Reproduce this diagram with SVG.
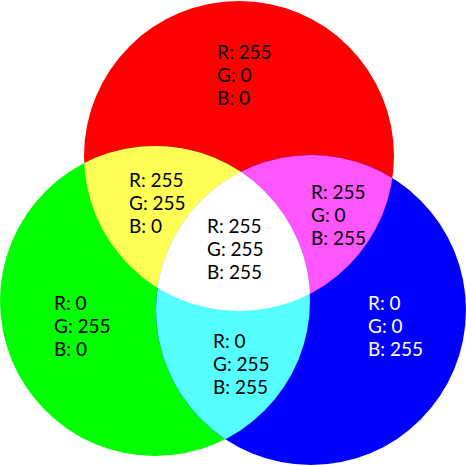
<svg xmlns="http://www.w3.org/2000/svg" width="466" height="466" viewBox="0 0 466 466">
<defs>
<clipPath id="cR"><circle cx="239" cy="156" r="155"/></clipPath>
<clipPath id="cG"><circle cx="155" cy="301" r="155"/></clipPath>
<clipPath id="cB"><circle cx="311" cy="310" r="155"/></clipPath>
</defs>
<style>
text{font-family:Lato,"Open Sans",sans-serif;font-size:19px;fill:#000}
.w{fill:#fff}
</style>
<rect width="466" height="466" fill="#fff"/>
<g id="red"><circle cx="239" cy="156" r="155" fill="#ff0000"/></g>
<g id="green"><circle cx="155" cy="301" r="155" fill="#00ff00"/></g>
<g id="blue"><circle cx="311" cy="310" r="155" fill="#0000ff"/></g>
<g id="yellow" clip-path="url(#cR)"><circle cx="155" cy="301" r="155" fill="#ffff55"/></g>
<g id="magenta" clip-path="url(#cR)"><circle cx="311" cy="310" r="155" fill="#ff55ff"/></g>
<g id="cyan" clip-path="url(#cG)"><circle cx="311" cy="310" r="155" fill="#55ffff"/></g>
<g id="white" clip-path="url(#cR)"><g clip-path="url(#cG)"><circle cx="311" cy="310" r="155" fill="#ffffff"/></g></g>
<g id="labels">
<text x="217" y="59">R: 255</text><text x="217" y="82">G: 0</text><text x="217" y="105">B: 0</text>
<text x="129" y="187">R: 255</text><text x="129" y="210">G: 255</text><text x="129" y="233">B: 0</text>
<text x="311" y="199">R: 255</text><text x="311" y="222">G: 0</text><text x="311" y="245">B: 255</text>
<text x="207" y="233">R: 255</text><text x="207" y="256">G: 255</text><text x="207" y="279">B: 255</text>
<text x="54" y="310">R: 0</text><text x="54" y="333">G: 255</text><text x="54" y="356">B: 0</text>
<text x="213" y="348">R: 0</text><text x="213" y="371">G: 255</text><text x="213" y="394">B: 255</text>
<text class="w" x="368" y="310">R: 0</text><text class="w" x="368" y="333">G: 0</text><text class="w" x="368" y="356">B: 255</text>
</g>
</svg>
